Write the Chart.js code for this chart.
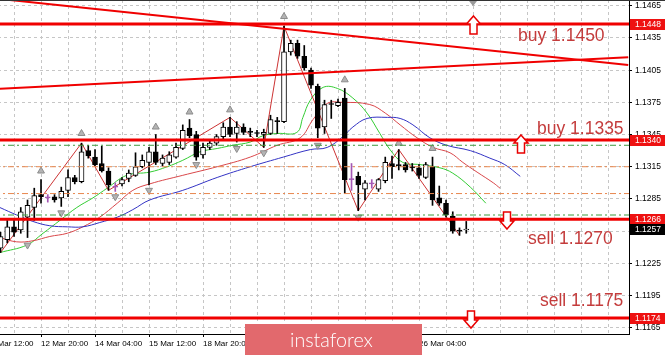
<!DOCTYPE html>
<html>
<head>
<meta charset="utf-8">
<script src="https://cdn.jsdelivr.net/npm/chart.js@4.4.1/dist/chart.umd.min.js"></script>
<style>
  html, body { margin: 0; padding: 0; background: #fff; overflow: hidden; width: 665px; height: 355px; }
  #wrap { position: absolute; left: -20px; top: 0; width: 690px; height: 355px; }
</style>
</head>
<body>
<div id="wrap"><canvas id="chart" width="690" height="355"></canvas></div>
<script>
// EURUSD H4, bar 0 = 11 Mar 20:00
const opens  = [1.1239,1.1247,1.1259,1.1256,1.1268,1.1277,1.1289,1.1286,1.1287,1.1286,
                1.1293,1.1305,1.1301,1.1330,1.1324,1.1318,1.1311,1.1296,1.1299,1.1304,
                1.1307,1.1315,1.1319,1.1329,1.1318,1.1319,1.1324,1.1332,1.1351,1.1345,
                1.1326,1.1333,1.1337,1.1343,1.1352,1.1346,1.1352,1.1348,1.1346,1.1345,
                1.1346,1.1357,1.1357,1.1422,1.1430,1.1418,1.1405,1.1390,1.1352,1.1373,
                1.1372,1.1379,1.1303,1.1306,1.1294,1.1299,1.1294,1.1302,1.1318,1.1316,
                1.1317,1.1315,1.1314,1.1305,1.1315,1.1286,1.1281,1.1269,1.1256,1.1256];
const highs  = [1.1254,1.1265,1.1265,1.1277,1.1284,1.1295,1.1303,1.1289,1.1289,1.1296,
                1.1312,1.1307,1.1337,1.1335,1.1331,1.1334,1.1314,1.1300,1.1305,1.1312,
                1.1328,1.1326,1.1333,1.1345,1.1326,1.1329,1.1337,1.1354,1.1359,1.1348,
                1.1337,1.1340,1.1345,1.1356,1.1361,1.1357,1.1355,1.1351,1.1349,1.1350,
                1.1363,1.1361,1.1446,1.1433,1.1433,1.1428,1.1407,1.1392,1.1377,1.1377,
                1.1378,1.1388,1.1318,1.1310,1.1302,1.1303,1.1304,1.1324,1.1325,1.1331,
                1.1319,1.1318,1.1317,1.1319,1.1324,1.1297,1.1284,1.1273,1.1258,1.1264];
const lows   = [1.1235,1.1244,1.1250,1.1253,1.1249,1.1265,1.1281,1.1282,1.1282,1.1278,
                1.1287,1.1299,1.1300,1.1323,1.1316,1.1310,1.1293,1.1292,1.1297,1.1301,
                1.1306,1.1314,1.1298,1.1317,1.1316,1.1317,1.1323,1.1331,1.1342,1.1321,
                1.1323,1.1331,1.1335,1.1341,1.1343,1.1338,1.1345,1.1343,1.1343,1.1333,
                1.1345,1.1346,1.1356,1.1419,1.1416,1.1405,1.1388,1.1342,1.1346,1.1360,
                1.1371,1.1290,1.1293,1.1274,1.1284,1.1295,1.1292,1.1300,1.1304,1.1312,
                1.1310,1.1311,1.1304,1.1304,1.1279,1.1279,1.1268,1.1253,1.1251,1.1253];
const closes = [1.1250,1.1259,1.1254,1.1273,1.1279,1.1288,1.1287,1.1286,1.1284,1.1292,
                1.1305,1.1301,1.1329,1.1325,1.1317,1.1311,1.1298,1.1296,1.1303,1.1309,
                1.1315,1.1321,1.1329,1.1319,1.1323,1.1326,1.1333,1.1349,1.1344,1.1324,
                1.1333,1.1337,1.1343,1.1352,1.1345,1.1352,1.1347,1.1347,1.1346,1.1347,
                1.1359,1.1357,1.1422,1.1430,1.1418,1.1407,1.1391,1.1351,1.1373,1.1373,
                1.1375,1.1303,1.1303,1.1298,1.1300,1.1299,1.1303,1.1319,1.1315,1.1316,
                1.1312,1.1314,1.1307,1.1317,1.1284,1.1281,1.1270,1.1255,1.1255,1.1257];
const purpleBars = [7, 17, 52, 55];

// Alligator lines (bar index, price)
const lipsX  = [-0.1,3.9,6.3,8.8,11.3,13.7,15.8,18.7,22.1,24.7,27.0,29.6,32.1,34.4,37.0,38.9,41.0,43.9,44.8,45.9,47.8,49.9,52.2,54.3,56.2,57.7,59.6,62.1,65.1,67.0,69.6,71.9];
const lipsY  = [1.1235,1.1242,1.1253,1.1265,1.1277,1.1286,1.1295,1.1307,1.1310,1.1315,1.1321,1.1329,1.1332,1.1335,1.1338,1.1344,1.1346,1.1347,1.1361,1.1377,1.1389,1.1388,1.1379,1.1365,1.1346,1.1331,1.1319,1.1317,1.1314,1.1309,1.1296,1.1281];
const teethX = [-0.1,2.4,4.8,7.3,9.9,12.2,14.7,17.3,19.6,22.1,27.0,32.1,37.0,41.0,44.4,46.3,48.4,50.7,54.7,57.0,59.2,61.7,64.1,66.6,68.5,70.6,73.0,74.0];
const teethY = [1.1249,1.1245,1.1246,1.1250,1.1253,1.1259,1.1268,1.1281,1.1293,1.1299,1.1307,1.1315,1.1324,1.1335,1.1342,1.1359,1.1374,1.1375,1.1373,1.1365,1.1354,1.1342,1.1333,1.1328,1.1319,1.1310,1.1300,1.1295];
const jawX   = [-0.1,2.4,4.8,7.3,9.9,12.2,14.7,17.3,19.6,22.1,27.0,32.1,37.0,41.9,45.9,48.4,50.7,52.2,54.3,57.3,59.2,61.1,63.6,66.1,69.6,72.5,74.7,77.0];
const jawY   = [1.1277,1.1270,1.1264,1.1260,1.1259,1.1259,1.1263,1.1268,1.1275,1.1284,1.1293,1.1305,1.1315,1.1324,1.1331,1.1333,1.1343,1.1352,1.1360,1.1361,1.1360,1.1354,1.1342,1.1335,1.1330,1.1323,1.1317,1.1306];

// ZigZag and fractals
const zzX = [0, 12, 16, 34, 39, 42, 53, 59, 68];
const zzY = [1.1235, 1.1337, 1.1293, 1.1361, 1.1333, 1.1446, 1.1274, 1.1331, 1.1251];
const fracUpX = [6, 12, 23, 28, 34, 42, 51, 59, 64];
const fracUpY = [1.1311, 1.1346, 1.1352, 1.1366, 1.1368, 1.1455, 1.1396, 1.1337, 1.1332];
const fracDnX = [4, 9, 17, 22, 29, 35, 39, 47, 53];
const fracDnY = [1.1242, 1.1272, 1.1287, 1.1293, 1.1317, 1.1332, 1.1328, 1.1335, 1.1268];

// levels and trend lines
const redLevels = [1.1448, 1.1340, 1.1266, 1.1174];
const greenLevels = [1.1335, 1.1270];
const orangeLevels = [1.1315, 1.1290];
const trendDownX = [-3, 93], trendDownY = [1.14733, 1.14099];
const trendUpX = [-3, 93], trendUpY = [1.13868, 1.14170];
const lastPrice = 1.1257;

const yTicks = [1.1165, 1.1195, 1.1225, 1.1255, 1.1285, 1.1315, 1.1345, 1.1375, 1.1405, 1.1435, 1.1465];
const labelIdx = [-2, 6, 14, 22, 30, 38, 46, 54, 62];
const labelText = ['11 Mar 12:00', '12 Mar 20:00', '14 Mar 04:00', '15 Mar 12:00', '18 Mar 20:00',
                   '20 Mar 04:00', '21 Mar 12:00', '22 Mar 20:00', '26 Mar 04:00'];

const X_MIN = -3.04, X_MAX = 93.11;
const Y_MIN = 1.11591, Y_MAX = 1.14704;
const OFF = 20; // canvas is shifted 20px left of the page

const gridIdx = [];
for (let v = -2; v <= 90; v += 4) gridIdx.push(v);

const idx = opens.map((_, i) => i);
const candleColor = i => purpleBars.includes(i) ? '#a457b4' : '#000';
const pts = (xs, ys) => xs.map((x, k) => ({ x: x, y: ys[k] }));
const hline = v => [{ x: X_MIN, y: v }, { x: X_MAX, y: v }];

const datasets = [];
redLevels.forEach(v => datasets.push({ type: 'line', data: hline(v), borderColor: '#f00000', borderWidth: 3, pointRadius: 0, order: 0 }));
greenLevels.forEach(v => datasets.push({ type: 'line', data: hline(v), borderColor: '#3f9a3f', borderWidth: 1, borderDash: [6, 3, 2, 3], pointRadius: 0, order: 1 }));
orangeLevels.forEach(v => datasets.push({ type: 'line', data: hline(v), borderColor: '#e8874e', borderWidth: 1, borderDash: [6, 3, 2, 3], pointRadius: 0, order: 1 }));
datasets.push({ type: 'line', data: pts(trendDownX, trendDownY), borderColor: '#f00000', borderWidth: 2, pointRadius: 0, order: 0 });
datasets.push({ type: 'line', data: pts(trendUpX, trendUpY), borderColor: '#f00000', borderWidth: 2, pointRadius: 0, order: 0 });

datasets.push({ type: 'line', data: pts(jawX, jawY), borderColor: '#3333c4', borderWidth: 1, pointRadius: 0, tension: 0.4, order: 6 });
datasets.push({ type: 'line', data: pts(teethX, teethY), borderColor: '#d9474a', borderWidth: 1, pointRadius: 0, tension: 0.4, order: 6 });
datasets.push({ type: 'line', data: pts(lipsX, lipsY), borderColor: '#33cc33', borderWidth: 1, pointRadius: 0, tension: 0.4, order: 6 });
datasets.push({ type: 'line', data: pts(zzX, zzY), borderColor: '#cc3333', borderWidth: 1, pointRadius: 0, order: 5 });

datasets.push({
  type: 'bar', data: idx.map(i => ({ x: i, y: [lows[i], highs[i]] })),
  backgroundColor: c => candleColor(c.dataIndex), barThickness: 1, grouped: false, order: 4
});
datasets.push({
  type: 'bar', data: idx.map(i => ({ x: i, y: [opens[i], closes[i]] })),
  backgroundColor: c => closes[c.dataIndex] > opens[c.dataIndex] ? '#fff' : candleColor(c.dataIndex),
  borderColor: c => candleColor(c.dataIndex), borderWidth: 1, borderSkipped: false,
  barThickness: 5, minBarLength: 1, grouped: false, order: 3
});

datasets.push({ type: 'line', data: pts(fracUpX, fracUpY), showLine: false, pointStyle: 'triangle', pointRadius: 4, pointRotation: 0, pointBackgroundColor: '#b4b4b4', pointBorderColor: '#8c8c8c', pointBorderWidth: 1, order: 2 });
datasets.push({ type: 'line', data: pts(fracDnX, fracDnY), showLine: false, pointStyle: 'triangle', pointRadius: 4, pointRotation: 180, pointBackgroundColor: '#b4b4b4', pointBorderColor: '#8c8c8c', pointBorderWidth: 1, order: 2 });

function blockArrow(ctx, cx, top, bottom, up) {
  const hw = 7, sw = 3.5, head = 8;
  ctx.beginPath();
  if (up) {
    ctx.moveTo(cx, top);
    ctx.lineTo(cx + hw, top + head); ctx.lineTo(cx + sw, top + head);
    ctx.lineTo(cx + sw, bottom); ctx.lineTo(cx - sw, bottom);
    ctx.lineTo(cx - sw, top + head); ctx.lineTo(cx - hw, top + head);
  } else {
    ctx.moveTo(cx, bottom);
    ctx.lineTo(cx + hw, bottom - head); ctx.lineTo(cx + sw, bottom - head);
    ctx.lineTo(cx + sw, top); ctx.lineTo(cx - sw, top);
    ctx.lineTo(cx - sw, bottom - head); ctx.lineTo(cx - hw, bottom - head);
  }
  ctx.closePath();
  ctx.fillStyle = '#fff'; ctx.fill();
  ctx.strokeStyle = '#e80000'; ctx.lineWidth = 1.5; ctx.stroke();
}

const overlay = {
  id: 'overlay',
  afterDraw(chart) {
    const { ctx, scales: { x, y }, chartArea } = chart;
    ctx.save();
    // top frame
    ctx.fillStyle = '#333';
    ctx.fillRect(0, 0, chart.width, 1);

    // chart shift marker
    const sx = x.getPixelForValue(70);
    ctx.fillStyle = '#9a9a9a';
    ctx.beginPath(); ctx.moveTo(sx - 4, 1); ctx.lineTo(sx + 4, 1); ctx.lineTo(sx, 6); ctx.closePath(); ctx.fill();

    // hollow arrows
    blockArrow(ctx, 473.5 + OFF, 16, 34, true);
    blockArrow(ctx, 521 + OFF, 135, 153, true);
    blockArrow(ctx, 507 + OFF, 212, 229, false);
    blockArrow(ctx, 471 + OFF, 311, 328, false);

    // notes
    ctx.font = '17.5px "Liberation Sans", Arial, sans-serif';
    ctx.fillStyle = '#c43c3c';
    ctx.textBaseline = 'alphabetic';
    ctx.textAlign = 'left';
    ctx.fillText('buy 1.1450', 518 + OFF, 41);
    ctx.fillText('buy 1.1335', 537 + OFF, 134);
    ctx.fillText('sell 1.1270', 528 + OFF, 244);
    ctx.fillText('sell 1.1175', 540 + OFF, 306);

    // price tags on the axis
    const tag = (v, bg) => {
      const py = Math.round(y.getPixelForValue(v));
      ctx.fillStyle = bg;
      ctx.fillRect(chartArea.right + 1, py - 5, 40, 11);
      ctx.fillStyle = '#fff';
      ctx.font = '8.5px "Liberation Sans", Arial, sans-serif';
      ctx.textBaseline = 'middle';
      ctx.fillText(v.toFixed(4), chartArea.right + 6, py + 0.5);
    };
    redLevels.forEach(v => tag(v, '#ee1111'));
    tag(lastPrice, '#000');

    // logo
    const lx = 245 + OFF, ly = 324, lw = 177, lh = 31;
    ctx.fillStyle = '#e2696d';
    ctx.fillRect(lx, ly, lw, lh + 2);
    ctx.fillStyle = '#fff';
    ctx.font = '300 20px Lato, "Open Sans", sans-serif';
    const w = ctx.measureText('instaforex').width;
    const fs = 20 * 83 / w;
    ctx.font = '300 ' + fs.toFixed(1) + 'px Lato, "Open Sans", sans-serif';
    ctx.textBaseline = 'alphabetic';
    ctx.fillText('instaforex', 290 + OFF, 347);
    ctx.restore();
  }
};

new Chart(document.getElementById('chart'), {
  type: 'bar',
  data: { datasets: datasets },
  options: {
    responsive: false,
    animation: false,
    devicePixelRatio: 1,
    layout: { padding: 0, autoPadding: false },
    plugins: { legend: { display: false }, tooltip: { enabled: false } },
    scales: {
      x: {
        type: 'linear', min: X_MIN, max: X_MAX, offset: false,
        afterBuildTicks: s => { s.ticks = gridIdx.map(v => ({ value: v })); },
        afterFit: s => { s.height = 21; s.paddingLeft = 0; s.paddingRight = 0; },
        ticks: {
          autoSkip: false, maxRotation: 0, minRotation: 0, align: 'start', padding: 2,
          color: '#000', font: { family: '"Liberation Sans", Arial, sans-serif', size: 8 },
          callback: v => { const k = labelIdx.indexOf(v); return k >= 0 ? labelText[k] : ''; }
        },
        grid: {
          offset: false, color: '#c6c6c6', lineWidth: 1, tickLength: 3, tickBorderDash: [],
          tickColor: c => (c.tick && labelIdx.includes(c.tick.value)) ? '#000' : 'rgba(0,0,0,0)'
        },
        border: { display: true, color: '#000', width: 1, dash: [3, 3] }
      },
      y: {
        position: 'right', min: Y_MIN, max: Y_MAX,
        afterBuildTicks: s => { s.ticks = yTicks.map(v => ({ value: v })); },
        afterFit: s => { s.width = 41; s.paddingTop = 0; s.paddingBottom = 0; },
        ticks: {
          padding: 3, color: '#000', font: { family: '"Liberation Sans", Arial, sans-serif', size: 8.5 },
          callback: v => v.toFixed(4)
        },
        grid: { color: '#c6c6c6', lineWidth: 1, tickLength: 3, tickColor: '#000', tickBorderDash: [] },
        border: { display: true, color: '#000', width: 1, dash: [3, 3] }
      }
    }
  },
  plugins: [overlay]
});
</script>
</body>
</html>
